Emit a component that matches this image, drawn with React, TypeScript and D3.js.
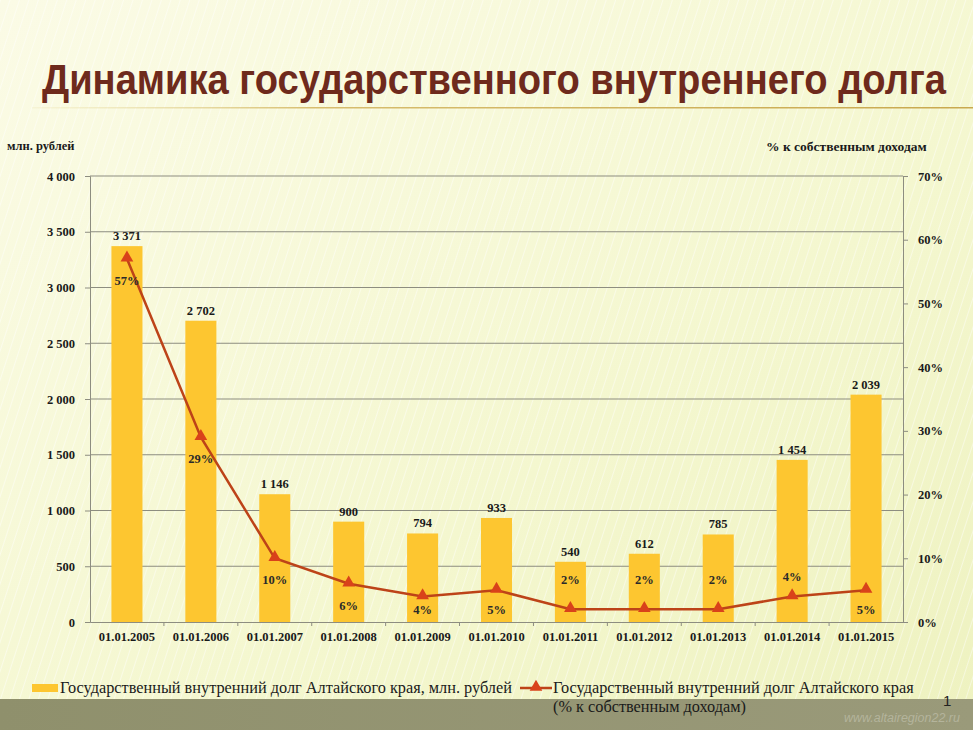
import { useEffect, useRef } from "react";
import * as d3 from "d3";

// Debt values by date, million rubles, and the same debt as % of own revenue
const dates = [
  "01.01.2005",
  "01.01.2006",
  "01.01.2007",
  "01.01.2008",
  "01.01.2009",
  "01.01.2010",
  "01.01.2011",
  "01.01.2012",
  "01.01.2013",
  "01.01.2014",
  "01.01.2015",
];
const debt = [3371, 2702, 1146, 900, 794, 933, 540, 612, 785, 1454, 2039];
const debtShare = [57, 29, 10, 6, 4, 5, 2, 2, 2, 4, 5];
const leftTicks = [0, 500, 1000, 1500, 2000, 2500, 3000, 3500, 4000];
const rightTicks = [0, 10, 20, 30, 40, 50, 60, 70];

const W = 973;
const H = 730;
const serif = "'Liberation Serif', 'Times New Roman', serif";

const App = () => {
  const svgRef = useRef<SVGSVGElement>(null);

  useEffect(() => {
    const svg = d3.select(svgRef.current);
    svg.selectAll("*").remove();

    const margin = { top: 176, right: 70, bottom: 108, left: 90 };
    const plotRight = W - margin.right;
    const plotBottom = H - margin.bottom;

    // Background: pale yellow with faint stripes, dark band at the bottom
    const defs = svg.append("defs");
    const bg = defs
      .append("linearGradient")
      .attr("id", "bg")
      .attr("x1", "0%")
      .attr("y1", "0%")
      .attr("x2", "100%")
      .attr("y2", "100%");
    bg.append("stop").attr("offset", "0%").attr("stop-color", "#fbfbe6");
    bg.append("stop").attr("offset", "60%").attr("stop-color", "#f4f7cf");
    bg.append("stop").attr("offset", "100%").attr("stop-color", "#eef2c0");

    const stripes = defs
      .append("pattern")
      .attr("id", "stripes")
      .attr("width", 9)
      .attr("height", 9)
      .attr("patternUnits", "userSpaceOnUse")
      .attr("patternTransform", "rotate(18)");
    stripes
      .append("line")
      .attr("x1", 0)
      .attr("y1", 0)
      .attr("x2", 0)
      .attr("y2", 9)
      .attr("stroke", "#ffffff")
      .attr("stroke-width", 2)
      .attr("opacity", 0.45);

    const rule = defs
      .append("linearGradient")
      .attr("id", "rule")
      .attr("x1", "0%")
      .attr("x2", "100%");
    rule.append("stop").attr("offset", "0%").attr("stop-color", "#e8dca0").attr("stop-opacity", 0.2);
    rule.append("stop").attr("offset", "30%").attr("stop-color", "#d7bd6e");
    rule.append("stop").attr("offset", "100%").attr("stop-color", "#c9a94f");

    const band = defs
      .append("linearGradient")
      .attr("id", "band")
      .attr("x1", "0%")
      .attr("x2", "100%");
    band.append("stop").attr("offset", "0%").attr("stop-color", "#8f906c");
    band.append("stop").attr("offset", "100%").attr("stop-color", "#9a9a7a");

    svg.append("rect").attr("width", W).attr("height", H).attr("fill", "url(#bg)");
    svg.append("rect").attr("width", W).attr("height", H).attr("fill", "url(#stripes)");
    svg.append("rect").attr("y", 699).attr("width", W).attr("height", H - 699).attr("fill", "url(#band)");

    // Title (tall, condensed lettering) and the rule under it
    svg
      .append("text")
      .attr("transform", "translate(42,94) scale(1,1.24)")
      .attr("textLength", 904)
      .attr("lengthAdjust", "spacingAndGlyphs")
      .attr("font-family", "'Liberation Sans', Arial, sans-serif")
      .attr("font-weight", "bold")
      .attr("font-size", 34)
      .attr("fill", "#6e2a1c")
      .text("Динамика государственного внутреннего долга");
    svg
      .append("rect")
      .attr("x", 32)
      .attr("y", 107)
      .attr("width", W - 32)
      .attr("height", 1.5)
      .attr("fill", "url(#rule)");

    const x = d3.scaleBand().domain(dates).range([margin.left, plotRight]);
    const y = d3.scaleLinear().domain([0, 4000]).range([plotBottom, margin.top]);
    const y2 = d3.scaleLinear().domain([0, 70]).range([plotBottom, margin.top]);
    const barW = x.bandwidth() * 0.42;
    const cx = (d: string) => (x(d) as number) + x.bandwidth() / 2;
    const fmt = (v: number) => d3.format(",")(v).replace(/,/g, " ");

    // Gridlines and left axis
    const leftAxis = svg
      .append("g")
      .attr("transform", `translate(${margin.left},0)`)
      .call(
        d3
          .axisLeft(y)
          .tickValues(leftTicks)
          .tickSize(5)
          .tickPadding(10)
          .tickFormat((d) => fmt(+d))
      );
    leftAxis.selectAll(".tick line").attr("stroke", "#8d8d80");
    leftAxis.select(".domain").attr("stroke", "#8d8d80");
    leftAxis
      .selectAll("text")
      .attr("font-family", serif)
      .attr("font-weight", "bold")
      .attr("font-size", 12.5)
      .attr("fill", "#1a1a1a");

    svg
      .append("g")
      .selectAll("line")
      .data(leftTicks.filter((t) => t > 0))
      .join("line")
      .attr("x1", margin.left)
      .attr("x2", plotRight)
      .attr("y1", (d) => y(d))
      .attr("y2", (d) => y(d))
      .attr("stroke", "#8d8d80")
      .attr("stroke-width", 1);

    // Right axis (percent)
    const rightAxis = svg
      .append("g")
      .attr("transform", `translate(${plotRight},0)`)
      .call(
        d3
          .axisRight(y2)
          .tickValues(rightTicks)
          .tickSize(5)
          .tickPadding(10)
          .tickFormat((d) => `${d}%`)
      );
    rightAxis.selectAll(".tick line").attr("stroke", "#8d8d80");
    rightAxis.select(".domain").attr("stroke", "#8d8d80");
    rightAxis
      .selectAll("text")
      .attr("font-family", serif)
      .attr("font-weight", "bold")
      .attr("font-size", 12.5)
      .attr("fill", "#1a1a1a");

    // Bottom axis
    const bottomAxis = svg
      .append("g")
      .attr("transform", `translate(0,${plotBottom})`)
      .call(d3.axisBottom(x).tickSize(0).tickPadding(10));
    bottomAxis.select(".domain").attr("stroke", "#8d8d80");
    bottomAxis
      .selectAll("text")
      .attr("font-family", serif)
      .attr("font-weight", "bold")
      .attr("font-size", 12.5)
      .attr("fill", "#1a1a1a");
    svg
      .append("g")
      .selectAll("line")
      .data(dates.slice(1))
      .join("line")
      .attr("x1", (d) => x(d) as number)
      .attr("x2", (d) => x(d) as number)
      .attr("y1", plotBottom)
      .attr("y2", plotBottom + 4)
      .attr("stroke", "#8d8d80");

    // Bars
    svg
      .append("g")
      .selectAll("rect")
      .data(dates)
      .join("rect")
      .attr("x", (d) => cx(d) - barW / 2)
      .attr("width", barW)
      .attr("y", (_, i) => y(debt[i]))
      .attr("height", (_, i) => plotBottom - y(debt[i]))
      .attr("fill", "#fdc630");

    svg
      .append("g")
      .selectAll("text")
      .data(dates)
      .join("text")
      .attr("x", (d) => cx(d))
      .attr("y", (_, i) => y(debt[i]) - 6)
      .attr("text-anchor", "middle")
      .attr("font-family", serif)
      .attr("font-weight", "bold")
      .attr("font-size", 12.5)
      .attr("fill", "#1a1a1a")
      .text((_, i) => fmt(debt[i]));

    // Percent line with triangle markers
    const line = d3
      .line<number>()
      .x((_, i) => cx(dates[i]))
      .y((d) => y2(d));
    svg
      .append("path")
      .datum(debtShare)
      .attr("d", line)
      .attr("fill", "none")
      .attr("stroke", "#bd4318")
      .attr("stroke-width", 2.5);

    const tri = d3.symbol().type(d3.symbolTriangle).size(70);
    svg
      .append("g")
      .selectAll("path")
      .data(debtShare)
      .join("path")
      .attr("d", tri)
      .attr("transform", (d, i) => `translate(${cx(dates[i])},${y2(d) - 1})`)
      .attr("fill", "#d9421a");

    // Percent labels: above the point when it sits close to the baseline
    const above = new Set([6, 7, 8, 9]);
    svg
      .append("g")
      .selectAll("text")
      .data(debtShare)
      .join("text")
      .attr("x", (_, i) => cx(dates[i]))
      .attr("y", (d, i) =>
        above.has(i) ? y2(d) - (d > 2 ? 16 : 25) : Math.min(y2(d) + 26, plotBottom - 8)
      )
      .attr("text-anchor", "middle")
      .attr("font-family", serif)
      .attr("font-weight", "bold")
      .attr("font-size", 12.5)
      .attr("fill", "#2a2a2a")
      .text((d) => `${d}%`);

    // Axis titles
    svg
      .append("text")
      .attr("x", 7)
      .attr("y", 150)
      .attr("font-family", serif)
      .attr("font-weight", "bold")
      .attr("font-size", 12.5)
      .attr("fill", "#1a1a1a")
      .text("млн. рублей");
    svg
      .append("text")
      .attr("x", 766)
      .attr("y", 151)
      .attr("font-family", serif)
      .attr("font-weight", "bold")
      .attr("font-size", 13.5)
      .attr("fill", "#1a1a1a")
      .text("% к собственным доходам");

    // Legend
    const legend = svg.append("g").attr("font-family", serif).attr("font-size", 16.3).attr("fill", "#1a1a1a");
    legend.append("rect").attr("x", 32).attr("y", 684).attr("width", 26).attr("height", 8).attr("fill", "#fdc630");
    legend
      .append("text")
      .attr("x", 60)
      .attr("y", 693)
      .text("Государственный внутренний долг Алтайского края, млн. рублей");
    legend
      .append("line")
      .attr("x1", 520)
      .attr("x2", 552)
      .attr("y1", 688)
      .attr("y2", 688)
      .attr("stroke", "#bd4318")
      .attr("stroke-width", 2.5);
    legend
      .append("path")
      .attr("d", tri)
      .attr("transform", "translate(536,687)")
      .attr("fill", "#d9421a");
    legend.append("text").attr("x", 553).attr("y", 693).text("Государственный внутренний долг Алтайского края");
    legend.append("text").attr("x", 553).attr("y", 712).text("(% к собственным доходам)");

    // Footer
    svg
      .append("text")
      .attr("x", 960)
      .attr("y", 722)
      .attr("text-anchor", "end")
      .attr("font-family", "'Liberation Sans', Arial, sans-serif")
      .attr("font-style", "italic")
      .attr("font-size", 12.5)
      .attr("fill", "#b4b49c")
      .text("www.altairegion22.ru");
    svg
      .append("text")
      .attr("x", 943)
      .attr("y", 706)
      .attr("font-family", "'Liberation Sans', Arial, sans-serif")
      .attr("font-size", 15)
      .attr("fill", "#222")
      .text("1");
  }, []);

  return (
    <svg
      ref={svgRef}
      width={W}
      height={H}
      style={{ position: "absolute", left: 0, top: 0, display: "block" }}
    />
  );
};

export default App;
